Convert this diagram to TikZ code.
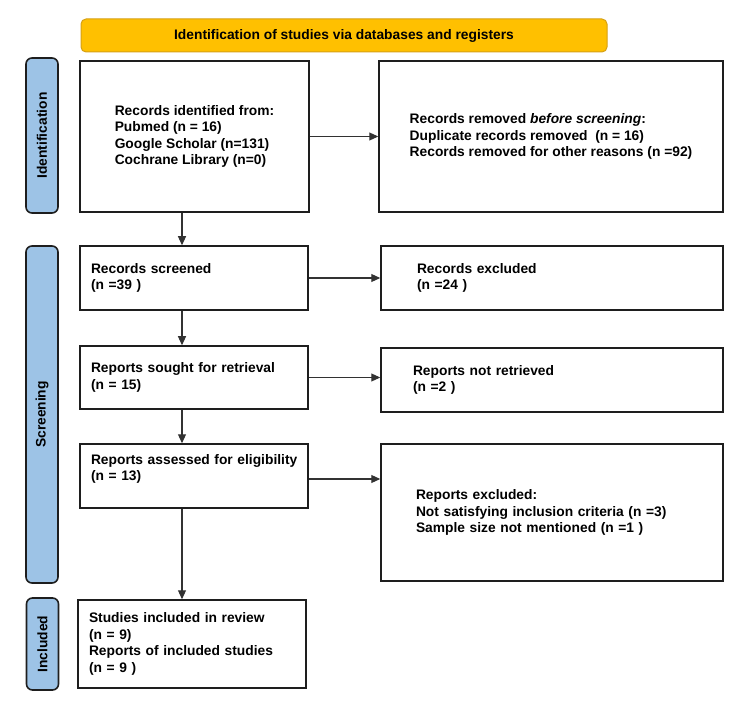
\documentclass[tikz,border=0pt]{standalone}
\usepackage{fontspec}
\setmainfont{Liberation Sans}
\usepackage{tikz}
\usetikzlibrary{shapes.geometric, arrows.meta, calc}
\definecolor{colorBanner}{RGB}{255, 192, 0}
\definecolor{colorBannerLine}{RGB}{214, 160, 20}
\definecolor{colorStage}{RGB}{157, 195, 230}
\definecolor{colorLine}{RGB}{30, 30, 30}
\definecolor{colorArrow}{RGB}{50, 50, 50}
\tikzstyle{banner} = [rectangle, rounded corners=5pt, minimum width=526, minimum height=33, text centered, draw=colorBannerLine, line width=1pt, fill=colorBanner]
\tikzstyle{stage} = [rectangle, rounded corners=6pt, minimum height=32, text centered, draw=colorLine, line width=1.6pt, fill=colorStage, rotate=90]
\tikzstyle{record} = [rectangle, draw=colorLine, line width=1.5pt, fill=white, align=left]
\tikzstyle{recordleft} = [rectangle, draw=colorLine, line width=1.5pt, fill=white, align=left, inner xsep=11, text width=206]
\tikzstyle{arrow} = [line width=1.1pt, draw=colorArrow, -{Triangle[length=9pt, width=8pt]}]

\begin{document}
\begin{tikzpicture}[x=1pt, y=-1pt, every node/.style={font=\fontsize{13.8}{16.5}\selectfont\bfseries}]

		\useasboundingbox (0,0) rectangle (750,719);

		% header
		\node (banner)[banner] at (344, 35.5) {Identification of studies via databases and registers};

		% side bars
		\node (barIdent)[stage, minimum width=155] at (42, 135.5) {Identification};
		\node (barScreen)[stage, minimum width=337] at (42, 414.5) {Screening};
		\node (barIncl)[stage, minimum width=92] at (42.5, 644) {Included};

		% identification
		\node (recIdentified)[record, minimum width=229, minimum height=151] at (194.5, 136.5) {Records identified from:\\ Pubmed (n = 16)\\ Google Scholar (n=131)\\ Cochrane Library (n=0)};
		\node (recRemoved)[record, minimum width=344, minimum height=151] at (551, 136.5) {Records removed \textit{before screening}:\\ Duplicate records removed\ \ (n = 16)\\ Records removed for other reasons (n =92)};

		% screening
		\node (recScreened)[recordleft, minimum height=64] at (194, 278) {Records screened\\ (n =39 )};
		\node (recExcluded)[recordleft, minimum height=64, inner xsep=36, text width=270] at (552, 278) {Records excluded\\ (n =24 )};

		\node (repSought)[recordleft, minimum height=63] at (194, 377.5) {Reports sought for retrieval\\ (n = 15)};
		\node (repNotRetrieved)[recordleft, minimum height=64, inner xsep=32, text width=278] at (552, 380) {Reports not retrieved\\ (n =2 )};

		% text sits high in this box
		\node (repAssessed)[recordleft, minimum height=64] at (194, 476) {\mbox{Reports assessed for eligibility}\\ (n = 13)\\ \mbox{}};
		\node (repExcluded)[recordleft, minimum height=137, inner xsep=35, text width=272] at (552, 512.5) {Reports excluded:\\ Not satisfying inclusion criteria (n =3)\\ Sample size not mentioned (n =1 )};

		% included
		\node (studIncluded)[recordleft, minimum height=88] at (192, 644) {Studies included in review\\ (n = 9)\\ Reports of included studies\\ (n = 9 )};

		% vertical line of arrows
		\coordinate (spine) at (182, 0);

		% lines and arrows
		\draw[arrow] (recIdentified.south -| spine) -- (recScreened.north -| spine);
		\draw[arrow] (recScreened.south -| spine) -- (repSought.north -| spine);
		\draw[arrow] (repSought.south -| spine) -- (repAssessed.north -| spine);
		\draw[arrow] (repAssessed.south -| spine) -- (studIncluded.north -| spine);

		\draw[arrow] (recIdentified.east) -- (recRemoved.west);
		\draw[arrow] (recScreened.east) -- (recExcluded.west);
		\draw[arrow] (repSought.east) -- (repSought.east -| repNotRetrieved.west);
		\draw[arrow] ([yshift=-3pt]repAssessed.east) -- ([yshift=-3pt]repAssessed.east -| repExcluded.west);

	\end{tikzpicture}
\end{document}
